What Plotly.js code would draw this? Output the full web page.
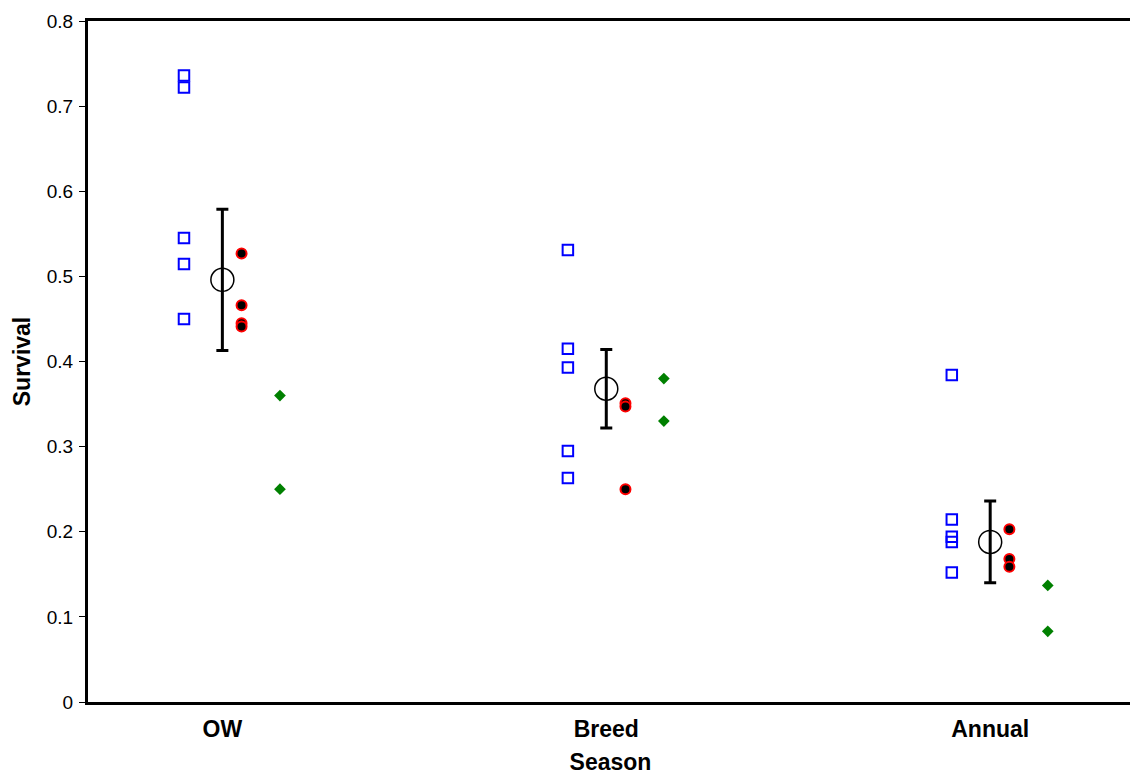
<!DOCTYPE html>
<html>
<head>
<meta charset="utf-8">
<script src="https://cdn.plot.ly/plotly-3.0.1.min.js"></script>
<style>
html,body{margin:0;padding:0;overflow:hidden;background:#fff;}
#chart{width:1136px;height:775px;}
</style>
</head>
<body>
<div id="chart"></div>
<script>
var categories = ["OW", "Breed", "Annual"];

var blueOW = [0.736, 0.722, 0.545, 0.5145, 0.450];
var blueBreed = [0.531, 0.415, 0.393, 0.295, 0.263];
var blueAnnual = [0.384, 0.2145, 0.194, 0.188, 0.152];

var redOW = [0.527, 0.466, 0.445, 0.441];
var redBreed = [0.351, 0.347, 0.250];
var redAnnual = [0.203, 0.168, 0.159];

var greenOW = [0.360, 0.250];
var greenBreed = [0.380, 0.330];
var greenAnnual = [0.137, 0.083];

var meanValues = [0.496, 0.368, 0.188];
var meanErrors = [0.083, 0.046, 0.048];

var yTicks = [0, 0.1, 0.2, 0.3, 0.4, 0.5, 0.6, 0.7, 0.8];
var yTickText = ["0", "0.1", "0.2", "0.3", "0.4", "0.5", "0.6", "0.7", "0.8"];

function group(lists, offset) {
  var xs = [], ys = [];
  lists.forEach(function (vals, i) {
    vals.forEach(function (v) { xs.push(i + 1 + offset); ys.push(v); });
  });
  return {x: xs, y: ys};
}

var blue = group([blueOW, blueBreed, blueAnnual], -0.1);
var red = group([redOW, redBreed, redAnnual], 0.05);
var green = group([greenOW, greenBreed, greenAnnual], 0.15);
var catX = categories.map(function (c, i) { return i + 1; });

var traces = [
  {x: blue.x, y: blue.y, type: "scatter", mode: "markers",
   marker: {symbol: "square-open", size: 10.5, color: "#0000ff", line: {width: 2, color: "#0000ff"}}},
  {x: red.x, y: red.y, type: "scatter", mode: "markers",
   marker: {symbol: "circle", size: 10, color: "#000000", line: {width: 2, color: "#ff0000"}}},
  {x: green.x, y: green.y, type: "scatter", mode: "markers",
   marker: {symbol: "diamond", size: 9, color: "#008000", line: {width: 0}}},
  {x: catX, y: meanValues, type: "scatter", mode: "markers",
   error_y: {type: "data", array: meanErrors, visible: true, color: "#000000", thickness: 3, width: 6},
   marker: {symbol: "circle-open", size: 23, color: "#000000", line: {width: 1.5, color: "#000000"}}}
];

var layout = {
  width: 1136, height: 775,
  margin: {l: 88, r: 3, t: 21, b: 73},
  paper_bgcolor: "#ffffff", plot_bgcolor: "#ffffff",
  showlegend: false,
  font: {family: "Liberation Sans, Arial, sans-serif", color: "#000000"},
  xaxis: {
    range: [0.65, 3.372],
    tickvals: catX, ticktext: categories,
    ticks: "", showgrid: false, zeroline: false,
    showline: true, linewidth: 3, linecolor: "#000000", mirror: true,
    tickfont: {size: 23, family: "Liberation Sans, Arial, sans-serif", weight: "bold"},
    ticklabelstandoff: 4,
    title: {text: "<b>Season</b>", font: {size: 23}, standoff: 26}
  },
  yaxis: {
    range: [0, 0.8],
    tickvals: yTicks, ticktext: yTickText,
    ticks: "outside", ticklen: 6, tickwidth: 1, tickcolor: "#000000",
    showgrid: false, zeroline: false,
    showline: true, linewidth: 3, linecolor: "#000000", mirror: true,
    tickfont: {size: 19},
    ticklabelstandoff: 2,
    title: {text: "<b>Survival</b>", font: {size: 23}, standoff: 10}
  }
};

Plotly.newPlot("chart", traces, layout, {displayModeBar: false, staticPlot: true});
</script>
</body>
</html>
